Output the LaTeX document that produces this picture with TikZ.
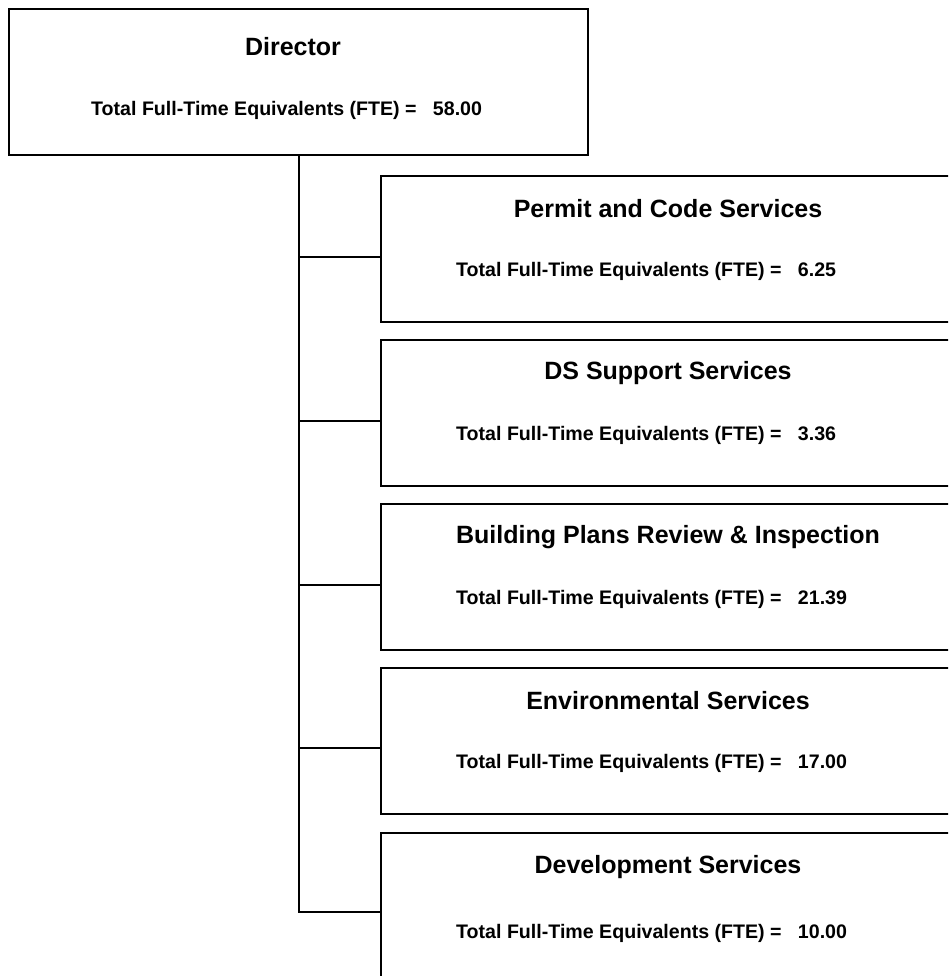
\documentclass[tikz,border=0pt]{standalone}
\usepackage{fontspec}
\setmainfont{Liberation Sans}
\begin{document}
\begin{tikzpicture}[x=1pt,y=-1pt,
  unitbox/.style={draw=black, line width=2.2pt, fill=white, rectangle,
    minimum width=576pt, minimum height=146pt, inner sep=0pt, anchor=north west},
  headtext/.style={inner sep=0pt, font=\fontsize{25}{30}\selectfont\bfseries},
  ftetext/.style={inner sep=0pt, anchor=west, font=\fontsize{19.6}{24}\selectfont\bfseries},
  link/.style={draw=black, line width=2pt}
]
\path[use as bounding box] (0,0) rectangle (948,976);
\clip (0,0) rectangle (948,976);

% top unit
\node[unitbox, minimum width=579pt] (dir) at (8,8) {};
\node[headtext] (dirT) at (293,47) {Director};
\node[ftetext] (dirF) at (91,110) {Total Full-Time Equivalents (FTE) = ~~58.00};

% divisions
\node[unitbox] (pcs) at (380,175) {};
\node[headtext] (pcsT) at (668,209) {Permit and Code Services};
\node[ftetext] (pcsF) at (456,271) {Total Full-Time Equivalents (FTE) = ~~6.25};

\node[unitbox] (dss) at (380,339) {};
\node[headtext] (dssT) at (668,373) {DS Support Services};
\node[ftetext] (dssF) at (456,435) {Total Full-Time Equivalents (FTE) = ~~3.36};

\node[unitbox] (bpr) at (380,503) {};
\node[headtext] (bprT) at (668,537) {Building Plans Review \& Inspection};
\node[ftetext] (bprF) at (456,599) {Total Full-Time Equivalents (FTE) = ~~21.39};

\node[unitbox] (env) at (380,667) {};
\node[headtext] (envT) at (668,701) {Environmental Services};
\node[ftetext] (envF) at (456,763) {Total Full-Time Equivalents (FTE) = ~~17.00};

\node[unitbox] (dev) at (380,832) {};
\node[headtext] (devT) at (668,867) {Development Services};
\node[ftetext] (devF) at (456,933) {Total Full-Time Equivalents (FTE) = ~~10.00};

% attachment points on the left side of each division
\coordinate (pcsA) at ([yshift=-82pt]pcs.north west);
\coordinate (dssA) at ([yshift=-82pt]dss.north west);
\coordinate (bprA) at ([yshift=-82pt]bpr.north west);
\coordinate (envA) at ([yshift=-81pt]env.north west);
\coordinate (devA) at ([yshift=-80pt]dev.north west);

% reporting lines
\draw[link] (dir.south) |- (devA);
\draw[link] (dir.south) |- (pcsA);
\draw[link] (dir.south) |- (dssA);
\draw[link] (dir.south) |- (bprA);
\draw[link] (dir.south) |- (envA);
\end{tikzpicture}
\end{document}
